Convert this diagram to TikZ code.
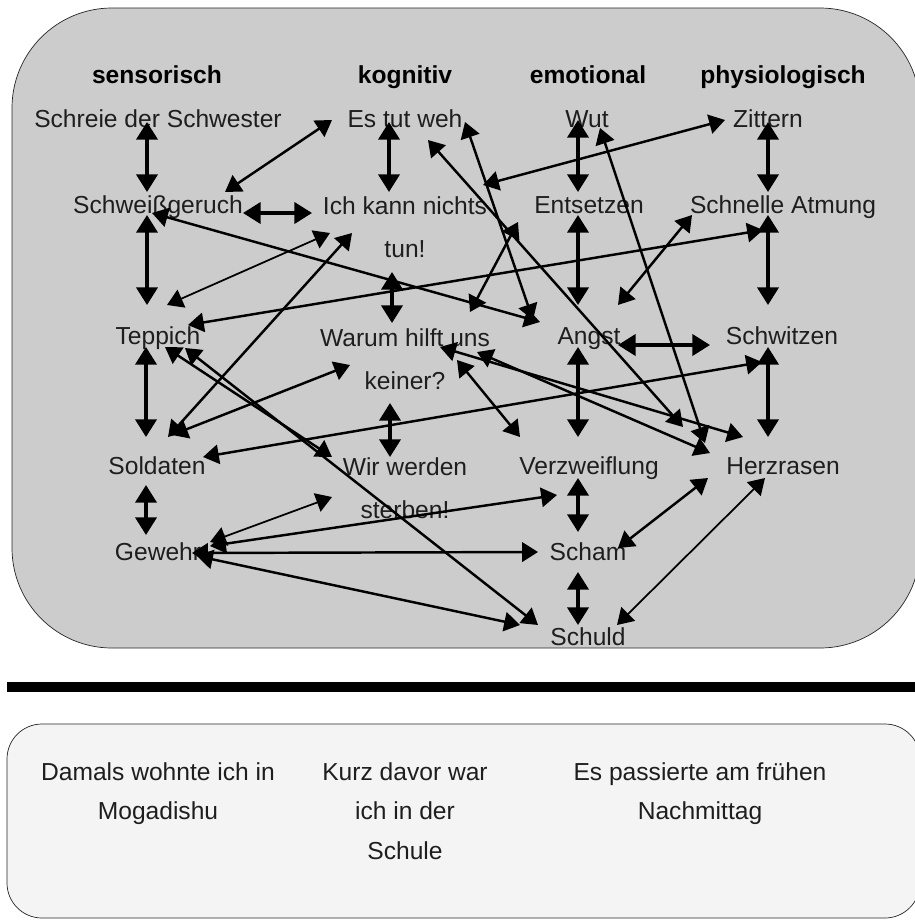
\documentclass[tikz,border=0pt]{standalone}
\usepackage{fontspec}
\setmainfont{Liberation Sans}
\usetikzlibrary{arrows.meta}
\definecolor{boxgray}{HTML}{CCCCCC}
\definecolor{boxlight}{HTML}{F4F4F4}
\definecolor{ink}{HTML}{1E1E1E}

\begin{document}
\begin{tikzpicture}[x=0.02cm,y=-0.02cm,
  lbl/.style={inner sep=0pt,text=ink,align=center,font=\fontsize{14}{24.5}\selectfont,
    execute at begin node=\strut,execute at end node=\strut},
  hdr/.style={lbl,text=black,font=\fontsize{14}{24.5}\selectfont\bfseries},
  note/.style={lbl,font=\fontsize{14}{22.7}\selectfont},
  link/.style={line width=1.4pt,>={Triangle[length=9pt,width=11pt]},<->},
  thinlink/.style={link,line width=1pt},
  vlink/.style={line width=1.9pt,>={Triangle[length=10pt,width=12pt]},<->}]
  \useasboundingbox (0,0) rectangle (914,920);

  % Background boxes and separator
  \draw[black!85,fill=boxgray,rounded corners=2cm] (12,8) rectangle (920,648);
  \draw[line width=0.2cm] (7,687) -- (916,687);
  \draw[black!85,fill=boxlight,rounded corners=0.7cm] (7,724) rectangle (920,918);

  % Column headers
  \node[hdr] (hsens) at (157,75) {sensorisch};
  \node[hdr] (hkog)  at (405,75) {kognitiv};
  \node[hdr] (hemo)  at (588,75) {emotional};
  \node[hdr] (hphys) at (783,75) {physiologisch};

  % sensorisch
  \node[lbl] (schreie)  at (158,119) {Schreie der Schwester};
  \node[lbl] (schweiss) at (158,205) {Schweißgeruch};
  \node[lbl] (teppich)  at (158,336) {Teppich};
  \node[lbl] (soldaten) at (157,466) {Soldaten};
  \node[lbl] (gewehr)   at (158,552) {Gewehr};
  % kognitiv
  \node[lbl] (tut)     at (405,119) {Es tut weh};
  \node[lbl] (nichts)  at (405,234) {Ich kann nichts\\tun!};
  \node[lbl] (warum)   at (405,366) {Warum hilft uns\\keiner?};
  \node[lbl] (sterben) at (405,495) {Wir werden\\sterben!};
  % emotional
  \node[lbl] (wut)       at (587,119) {Wut};
  \node[lbl] (entsetzen) at (589,205) {Entsetzen};
  \node[lbl] (angst)     at (589,336) {Angst};
  \node[lbl] (verzw)     at (589,466) {Verzweiflung};
  \node[lbl] (scham)     at (588,552) {Scham};
  \node[lbl] (schuld)    at (588,637) {Schuld};
  % physiologisch
  \node[lbl] (zittern)   at (768,119) {Zittern};
  \node[lbl] (atmung)    at (783,205) {Schnelle Atmung};
  \node[lbl] (schwitzen) at (782,336) {Schwitzen};
  \node[lbl] (herz)      at (783,466) {Herzrasen};

  % Context notes
  \node[note] (damals) at (158,797) {Damals wohnte ich in\\Mogadishu};
  \node[note] (kurz)   at (405,817) {Kurz davor war\\ich in der\\Schule};
  \node[note] (frueh)  at (700,797) {Es passierte am frühen\\Nachmittag};

  % Links within the columns
  \draw[vlink] ([shift={(-11,3)}]schreie.center) -- ([shift={(-11,-13)}]schweiss.center);
  \draw[vlink] ([shift={(-11,10)}]schweiss.center) -- ([shift={(-11,-31)}]teppich.center);
  \draw[vlink] ([shift={(-12,11)}]teppich.center) -- ([shift={(-11,-29)}]soldaten.center);
  \draw[vlink] ([shift={(-11,19)}]soldaten.center) -- ([shift={(-12,-17)}]gewehr.center);
  \draw[vlink] ([shift={(-16,3)}]tut.center) -- ([shift={(-16,-42)}]nichts.center);
  \draw[vlink] ([shift={(-13,38)}]nichts.center) -- ([shift={(-13,-43)}]warum.center);
  \draw[vlink] ([shift={(-15,37)}]warum.center) -- ([shift={(-15,-38)}]sterben.center);
  \draw[vlink] ([shift={(-9,1)}]wut.center) -- ([shift={(-11,-13)}]entsetzen.center);
  \draw[vlink] ([shift={(-11,10)}]entsetzen.center) -- ([shift={(-11,-31)}]angst.center);
  \draw[vlink] ([shift={(-11,11)}]angst.center) -- ([shift={(-11,-29)}]verzw.center);
  \draw[vlink] ([shift={(-11,12)}]verzw.center) -- ([shift={(-10,-20)}]scham.center);
  \draw[vlink] ([shift={(-10,20)}]scham.center) -- ([shift={(-10,-12)}]schuld.center);
  \draw[vlink] ([shift={(0,3)}]zittern.center) -- ([shift={(-15,-13)}]atmung.center);
  \draw[vlink] ([shift={(-15,10)}]atmung.center) -- ([shift={(-14,-31)}]schwitzen.center);
  \draw[vlink] ([shift={(-14,11)}]schwitzen.center) -- ([shift={(-15,-29)}]herz.center);
  \draw[vlink] ([shift={(85,8)}]schweiss.center) -- ([shift={(-93,-21)}]nichts.center);
  \draw[vlink] ([shift={(29,9)}]angst.center) -- ([shift={(-72,9)}]schwitzen.center);

  % Links across the columns
  \draw[link] ([shift={(67,-13)}]schweiss.center) -- ([shift={(-73,1)}]tut.center);
  \draw[thinlink] ([shift={(9,-31)}]teppich.center) -- ([shift={(-75,-1)}]nichts.center);
  \draw[link] ([shift={(11,-29)}]soldaten.center) -- ([shift={(-53,-1)}]nichts.center);
  \draw[link] ([shift={(-6,8)}]schweiss.center) -- ([shift={(-49,-14)}]angst.center);
  \draw[link] ([shift={(60,3)}]tut.center) -- ([shift={(-56,-16)}]angst.center);
  \draw[link] ([shift={(23,21)}]tut.center) -- ([shift={(-100,-39)}]herz.center);
  \draw[link] ([shift={(13,9)}]wut.center) -- ([shift={(-78,-23)}]herz.center);
  \draw[link] ([shift={(35,-19)}]warum.center) -- ([shift={(-40,-29)}]herz.center);
  \draw[link] ([shift={(72,-14)}]warum.center) -- ([shift={(-73,-13)}]herz.center);
  \draw[link] ([shift={(52,-6)}]warum.center) -- ([shift={(-69,-29)}]verzw.center);
  \draw[link] ([shift={(-71,17)}]entsetzen.center) -- ([shift={(65,-54)}]warum.center);
  \draw[link] ([shift={(78,-49)}]nichts.center) -- ([shift={(-43,1)}]zittern.center);
  \draw[link] ([shift={(30,-11)}]teppich.center) -- ([shift={(-20,25)}]atmung.center);
  \draw[link] ([shift={(-91,10)}]atmung.center) -- ([shift={(29,-31)}]angst.center);
  \draw[link] ([shift={(15,-31)}]soldaten.center) -- ([shift={(-55,-1)}]warum.center);
  \draw[link] ([shift={(46,-9)}]soldaten.center) -- ([shift={(-20,26)}]schwitzen.center);
  \draw[link] ([shift={(7,11)}]teppich.center) -- ([shift={(-73,-38)}]sterben.center);
  \draw[link] ([shift={(27,12)}]teppich.center) -- ([shift={(-50,-12)}]schuld.center);
  \draw[thinlink] ([shift={(52,-10)}]gewehr.center) -- ([shift={(-73,2)}]sterben.center);
  \draw[link] ([shift={(52,-6)}]gewehr.center) -- ([shift={(-32,29)}]verzw.center);
  \draw[link] ([shift={(34,1)}]gewehr.center) -- ([shift={(-50,0)}]scham.center);
  \draw[link] ([shift={(39,4)}]gewehr.center) -- ([shift={(-68,-12)}]schuld.center);
  \draw[link] ([shift={(30,-4)}]scham.center) -- ([shift={(-75,12)}]herz.center);
  \draw[thinlink] ([shift={(29,-12)}]schuld.center) -- ([shift={(-18,12)}]herz.center);
\end{tikzpicture}
\end{document}
